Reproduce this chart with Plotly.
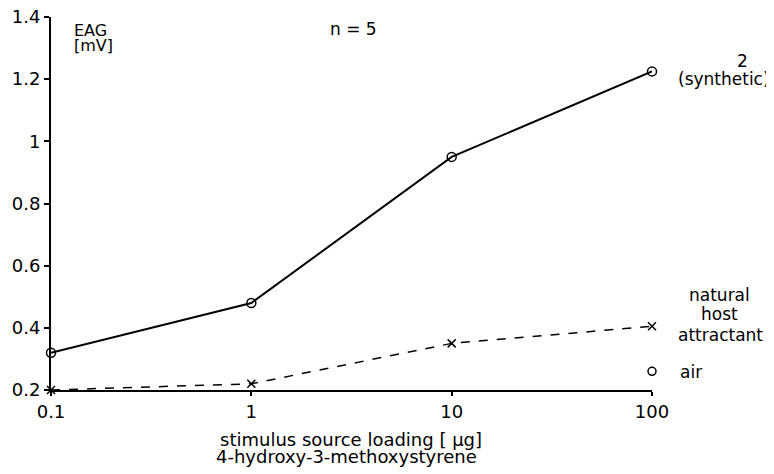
import plotly.graph_objects as go

doses = [0.1, 1, 10, 100]
synthetic = [0.32, 0.48, 0.95, 1.225]
natural = [0.2, 0.22, 0.35, 0.405]
air_x = [100]
air_y = [0.26]
y_ticks = [0.2, 0.4, 0.6, 0.8, 1.0, 1.2, 1.4]
y_labels = ["0.2", "0.4", "0.6", "0.8", "1", "1.2", "1.4"]
x_ticks = [0.1, 1, 10, 100]
x_labels = ["0.1", "1", "10", "100"]

FONT = "DejaVu Sans, Liberation Sans, Arial, sans-serif"

# page offset (default body margin) and target plot area in screen pixels
OFF = 8
L, R, T, B = 51, 652, 17, 390
W, H = 766, 466


def px(x):
    return (x - L) / (R - L)


def py(y):
    return (B - y) / (B - T)


fig = go.Figure()
fig.add_trace(go.Scatter(x=doses, y=natural, mode="lines+markers",
                         line=dict(color="black", width=1.5, dash="dash"),
                         marker=dict(symbol="x-thin", size=8, line=dict(color="black", width=1.5)),
                         cliponaxis=False, showlegend=False))
fig.add_trace(go.Scatter(x=doses, y=synthetic, mode="lines+markers",
                         line=dict(color="black", width=2),
                         marker=dict(symbol="circle-open", size=9, color="black", line=dict(width=1.5)),
                         cliponaxis=False, showlegend=False))
fig.add_trace(go.Scatter(x=air_x, y=air_y, mode="markers",
                         marker=dict(symbol="circle-open", size=8, color="black", line=dict(width=1.5)),
                         cliponaxis=False, showlegend=False))

fig.update_layout(
    width=W, height=H,
    margin=dict(l=L - OFF, r=W - (R - OFF), t=T - OFF, b=H - (B - OFF), pad=0),
    plot_bgcolor="white", paper_bgcolor="white",
    font=dict(family=FONT, size=17, color="black"),
    xaxis=dict(type="log", range=[-1, 2], tickvals=x_ticks, ticktext=x_labels,
               showgrid=False, zeroline=False, showline=True, linecolor="black", linewidth=2,
               ticks="outside", ticklen=4, tickwidth=1.5, tickcolor="black",
               tickfont=dict(size=18), automargin=False, ticklabeloverflow="allow"),
    yaxis=dict(range=[0.2, 1.4], tickvals=y_ticks, ticktext=y_labels,
               showgrid=False, zeroline=False, showline=True, linecolor="black", linewidth=2,
               ticks="outside", ticklen=5, tickwidth=1.5, tickcolor="black",
               tickfont=dict(size=18), automargin=False, ticklabeloverflow="allow"),
)


def txt(text, x, y, xanchor="center", size=17):
    fig.add_annotation(x=px(x), y=py(y), xref="paper", yref="paper", text=text,
                       showarrow=False, xanchor=xanchor, yanchor="middle",
                       font=dict(size=size))


txt("EAG", 72, 30, "left", 16)
txt("[mV]", 72, 45, "left", 16)
txt("n = 5", 353, 29, "center", 17)
txt("2", 742, 61)
txt("(synthetic)", 724, 79)
txt("natural", 720, 295)
txt("host", 720, 314)
txt("attractant", 721, 335)
txt("air", 678, 372, "left")
txt("stimulus source loading [ µg]", 351, 439, "center", 18)
txt("4-hydroxy-3-methoxystyrene", 346, 456, "center", 18)

fig.write_html("out.html")
